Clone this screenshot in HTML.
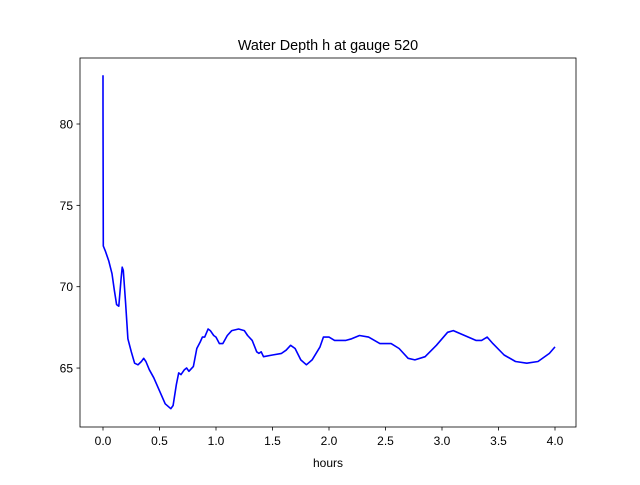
<!DOCTYPE html>
<html><head><meta charset="utf-8"><style>
body{margin:0;background:#fff}
svg text{font-family:"Liberation Sans","DejaVu Sans",sans-serif;font-size:12px;fill:#000}
</style></head><body>
<svg id="chart" width="640" height="480">
<rect width="640" height="480" fill="#fff"/>
<text x="328" y="50" text-anchor="middle" style="font-size:14.4px">Water Depth h at gauge 520</text>
<g id="ticks"></g>
<path id="line" fill="none" stroke="#0000ff" stroke-width="1.6" stroke-linejoin="round"/>
<rect x="80" y="58" width="496" height="369" fill="none" stroke="#000" stroke-width="0.8"/>
<text x="328" y="467" text-anchor="middle">hours</text>
</svg>
<script>
const hours=[0,0.0,0.003,0.02,0.05,0.08,0.1,0.12,0.14,0.16,0.17,0.18,0.2,0.22,0.25,0.28,0.31,0.34,0.36,0.38,0.41,0.45,0.5,0.55,0.6,0.62,0.65,0.67,0.69,0.72,0.74,0.76,0.8,0.83,0.86,0.88,0.9,0.93,0.95,0.98,1.0,1.03,1.06,1.1,1.14,1.2,1.25,1.28,1.32,1.36,1.38,1.4,1.42,1.5,1.58,1.62,1.66,1.7,1.75,1.8,1.85,1.92,1.95,2.0,2.05,2.15,2.2,2.27,2.35,2.45,2.55,2.62,2.7,2.76,2.85,2.95,3.05,3.1,3.2,3.3,3.35,3.4,3.45,3.55,3.65,3.75,3.85,3.95,4.0];
const depth=[83.0,81.2,72.5,72.2,71.6,70.8,69.8,68.9,68.8,70.5,71.2,71.0,69.0,66.8,66.0,65.3,65.2,65.4,65.6,65.4,64.9,64.4,63.6,62.8,62.5,62.7,64.0,64.7,64.6,64.9,65.0,64.8,65.1,66.2,66.6,66.9,66.9,67.4,67.3,67.0,66.9,66.5,66.5,67.0,67.3,67.4,67.3,67.0,66.7,66.0,65.9,66.0,65.7,65.8,65.9,66.1,66.4,66.2,65.5,65.2,65.5,66.3,66.9,66.9,66.7,66.7,66.8,67.0,66.9,66.5,66.5,66.2,65.6,65.5,65.7,66.4,67.2,67.3,67.0,66.7,66.7,66.9,66.5,65.8,65.4,65.3,65.4,65.9,66.3];
const xTicks=[0,0.5,1,1.5,2,2.5,3,3.5,4];
const yTicks=[65,70,75,80];
const X=h=>103+h*113;
const Y=v=>124-(v-80)*16.27;
const ns="http://www.w3.org/2000/svg";
const g=document.getElementById('ticks');
function mk(tag,attrs){const e=document.createElementNS(ns,tag);for(const k in attrs)e.setAttribute(k,attrs[k]);g.appendChild(e);return e;}
xTicks.forEach(t=>{
  const l=mk('line',{x1:X(t),x2:X(t),y1:427,y2:430.5,stroke:'#000','stroke-width':0.8});
  
  
  const tx=mk('text',{x:X(t),y:445,'text-anchor':'middle'});
  tx.textContent=t.toFixed(1);
  
  
});
yTicks.forEach(t=>{
  const l=mk('line',{x1:76.5,x2:80,y1:Y(t),y2:Y(t),stroke:'#000','stroke-width':0.8});
  
  
  const tx=mk('text',{x:73,y:Y(t)+4.5,'text-anchor':'end'});
  tx.textContent=t;
  
  
});
document.getElementById('line').setAttribute('d',hours.map((h,i)=>(i?'L':'M')+X(h).toFixed(1)+','+Y(depth[i]).toFixed(1)).join(''));
</script>
</body></html>
